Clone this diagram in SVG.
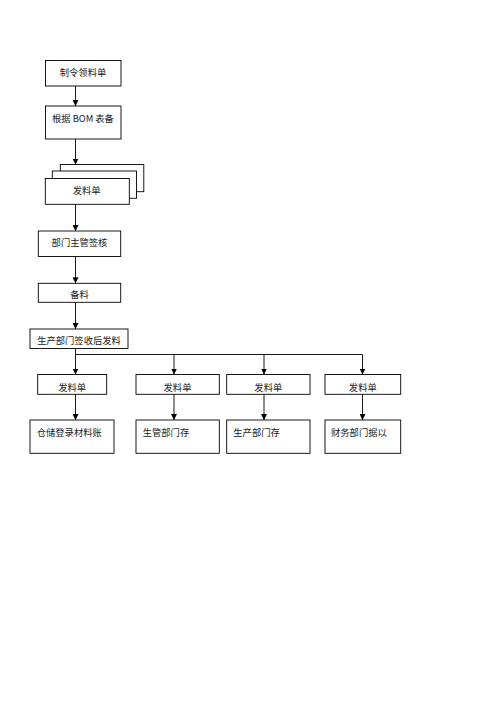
<svg xmlns="http://www.w3.org/2000/svg" width="500" height="707" viewBox="0 0 500 707">
<defs>
<style>
.box{fill:#fff;stroke:#000;stroke-width:0.9}
.t{font-family:"Noto Sans CJK SC","Liberation Sans",sans-serif;font-size:9.3px;fill:#222}
.c{text-anchor:middle}
.ln{stroke:#000;stroke-width:0.9;fill:none}
</style>
<marker id="ah" markerWidth="6" markerHeight="6" refX="6" refY="3" orient="auto" markerUnits="userSpaceOnUse">
<path d="M0,0 L6,3 L0,6 z" fill="#000"/>
</marker>
</defs>
<rect width="500" height="707" fill="#fff"/>
<g id="connectors">
<line class="ln" x1="75.5" y1="86" x2="75.5" y2="106" marker-end="url(#ah)"/>
<line class="ln" x1="75.5" y1="139" x2="75.5" y2="164.5" marker-end="url(#ah)"/>
<line class="ln" x1="75.5" y1="204.3" x2="75.5" y2="231" marker-end="url(#ah)"/>
<line class="ln" x1="75.5" y1="256.5" x2="75.5" y2="283.3" marker-end="url(#ah)"/>
<line class="ln" x1="75.5" y1="302.3" x2="75.5" y2="329" marker-end="url(#ah)"/>
<line class="ln" x1="75.5" y1="348.5" x2="75.5" y2="374.5" marker-end="url(#ah)"/>
<polyline class="ln" points="75.5,354.5 362.5,354.5"/>
<line class="ln" x1="174" y1="354.5" x2="174" y2="374.5" marker-end="url(#ah)"/>
<line class="ln" x1="264" y1="354.5" x2="264" y2="374.5" marker-end="url(#ah)"/>
<line class="ln" x1="362.5" y1="354.5" x2="362.5" y2="374.5" marker-end="url(#ah)"/>
<line class="ln" x1="75.5" y1="394.3" x2="75.5" y2="420" marker-end="url(#ah)"/>
<line class="ln" x1="174" y1="394.3" x2="174" y2="420" marker-end="url(#ah)"/>
<line class="ln" x1="264" y1="394.3" x2="264" y2="420" marker-end="url(#ah)"/>
<line class="ln" x1="362.5" y1="394.3" x2="362.5" y2="420" marker-end="url(#ah)"/>
</g>
<g id="n1"><rect class="box" x="45.5" y="60.5" width="75.5" height="25.5"/><text class="t c" x="83" y="76">制令领料单</text></g>
<g id="n2"><rect class="box" x="45.5" y="106" width="75.5" height="33"/><text class="t" x="52" y="122.3">根据 BOM 表备</text></g>
<g id="n3">
<rect class="box" x="60.3" y="164.5" width="83.5" height="27.2"/>
<rect class="box" x="52.3" y="171" width="84.2" height="27.3"/>
<rect class="box" x="45.3" y="178.5" width="84" height="25.8"/>
<text class="t c" x="86.7" y="193.5">发料单</text>
</g>
<g id="n4"><rect class="box" x="38.3" y="231" width="82.4" height="25.5"/><text class="t c" x="79.5" y="245.8">部门主管签核</text></g>
<g id="n5"><rect class="box" x="38.3" y="283.3" width="82.4" height="19"/><text class="t c" x="79.5" y="298.2">备料</text></g>
<g id="n6"><rect class="box" x="30" y="329" width="98" height="19.5"/><text class="t c" x="79" y="344.3">生产部门签收后发料</text></g>
<g id="n7"><rect class="box" x="37.7" y="374.5" width="69" height="19.8"/><text class="t c" x="72.2" y="390.6">发料单</text></g>
<g id="n8"><rect class="box" x="136" y="374.5" width="83.3" height="19.8"/><text class="t c" x="177.5" y="390.6">发料单</text></g>
<g id="n9"><rect class="box" x="226.7" y="374.5" width="83.3" height="19.8"/><text class="t c" x="268.3" y="390.6">发料单</text></g>
<g id="n10"><rect class="box" x="325" y="374.5" width="75.7" height="19.8"/><text class="t c" x="362.8" y="390.6">发料单</text></g>
<g id="n11"><rect class="box" x="30" y="420" width="84" height="33.3"/><text class="t" x="36.7" y="435.6">仓储登录材料账</text></g>
<g id="n12"><rect class="box" x="136" y="420" width="83.3" height="33.3"/><text class="t" x="142.7" y="435.6">生管部门存</text></g>
<g id="n13"><rect class="box" x="226.7" y="420" width="83.3" height="33.3"/><text class="t" x="233.3" y="435.6">生产部门存</text></g>
<g id="n14"><rect class="box" x="325" y="420" width="75.7" height="33.3"/><text class="t" x="331" y="435.6">财务部门据以</text></g>
</svg>
